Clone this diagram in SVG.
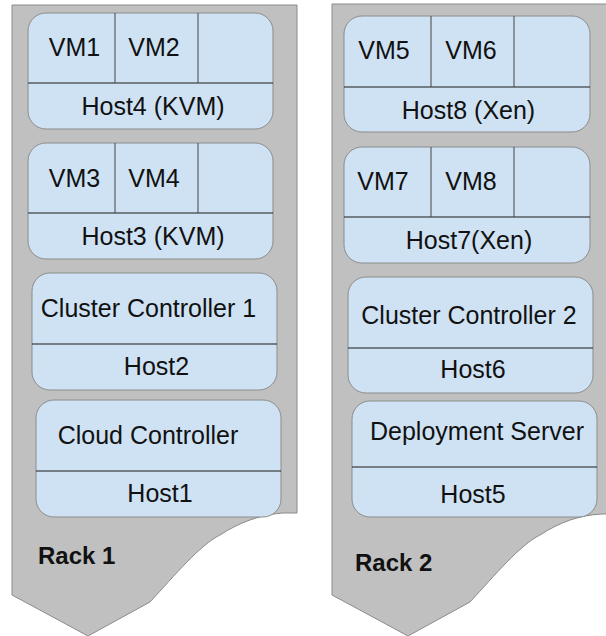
<svg xmlns="http://www.w3.org/2000/svg" width="606" height="636" viewBox="0 0 606 636">
<style>
.rack{fill:#c0c0c0;stroke:#8a8a8a;stroke-width:1}
.box{fill:#cfe2f3;stroke:#8c8c8c;stroke-width:1}
.div{stroke:#1a1a1a;stroke-width:1;fill:none}
.vm{stroke:#444;stroke-width:1;fill:none}
text{font-family:"Liberation Sans",Arial,sans-serif;font-size:25px;fill:#111}
.c{text-anchor:middle}
.b{font-weight:bold;font-size:24px}
</style>
<rect width="606" height="636" fill="#fff"/>
<g id="rack1">
<path class="rack" d="M12,5 H297 V513 H282 C260,515 240,522 220,535 C200,545 175,575 150,602 L88,636 L12,595 Z"/>
<text class="b" x="38" y="564">Rack 1</text>
</g>
<g id="rack2">
<path class="rack" d="M332,4 H617 V514 H602 C580,515 560,522 540,535 C520,545 495,575 470,602 L408,636 L332,595 Z"/>
<text class="b" x="355" y="571">Rack 2</text>
</g>
<g id="host4">
<rect class="box" x="28" y="13" width="245" height="116" rx="18"/>
<line class="div" x1="28" y1="83" x2="273" y2="83"/>
<line class="vm" x1="115" y1="13" x2="115" y2="83"/>
<line class="vm" x1="198" y1="13" x2="198" y2="83"/>
<text class="c" x="74.5" y="56">VM1</text>
<text class="c" x="154" y="56">VM2</text>
<text class="c" x="153" y="115">Host4 (KVM)</text>
</g>
<g id="host3">
<rect class="box" x="28" y="143" width="245" height="116" rx="18"/>
<line class="div" x1="28" y1="213" x2="273" y2="213"/>
<line class="vm" x1="115" y1="143" x2="115" y2="213"/>
<line class="vm" x1="198" y1="143" x2="198" y2="213"/>
<text class="c" x="74.5" y="187">VM3</text>
<text class="c" x="154" y="187">VM4</text>
<text class="c" x="153" y="245">Host3 (KVM)</text>
</g>
<g id="host2">
<rect class="box" x="32" y="273" width="245" height="117" rx="18"/>
<line class="div" x1="32" y1="344" x2="277" y2="344"/>
<text class="c" x="148.5" y="317">Cluster Controller 1</text>
<text class="c" x="156.5" y="375">Host2</text>
</g>
<g id="host1">
<rect class="box" x="36" y="400" width="245" height="117" rx="18"/>
<line class="div" x1="36" y1="471" x2="281" y2="471"/>
<text class="c" x="148" y="444">Cloud Controller</text>
<text class="c" x="160" y="502">Host1</text>
</g>
<g id="host8">
<rect class="box" x="344" y="16" width="246" height="116" rx="18"/>
<line class="div" x1="344" y1="87" x2="590" y2="87"/>
<line class="vm" x1="431" y1="16" x2="431" y2="87"/>
<line class="vm" x1="514" y1="16" x2="514" y2="87"/>
<text class="c" x="384" y="59">VM5</text>
<text class="c" x="471" y="59">VM6</text>
<text class="c" x="468.5" y="119">Host8 (Xen)</text>
</g>
<g id="host7">
<rect class="box" x="344" y="147" width="246" height="116" rx="18"/>
<line class="div" x1="344" y1="217" x2="590" y2="217"/>
<line class="vm" x1="431" y1="147" x2="431" y2="217"/>
<line class="vm" x1="514" y1="147" x2="514" y2="217"/>
<text class="c" x="383" y="190">VM7</text>
<text class="c" x="471" y="190">VM8</text>
<text class="c" x="469" y="249">Host7(Xen)</text>
</g>
<g id="host6">
<rect class="box" x="348" y="277" width="245" height="116" rx="18"/>
<line class="div" x1="348" y1="348" x2="593" y2="348"/>
<text class="c" x="469" y="324">Cluster Controller 2</text>
<text class="c" x="473" y="378">Host6</text>
</g>
<g id="host5">
<rect class="box" x="352" y="401" width="245" height="116" rx="18"/>
<line class="div" x1="352" y1="467" x2="597" y2="467"/>
<text class="c" x="477" y="440">Deployment Server</text>
<text class="c" x="473" y="503">Host5</text>
</g>
<g id="connectors"/>
</svg>
